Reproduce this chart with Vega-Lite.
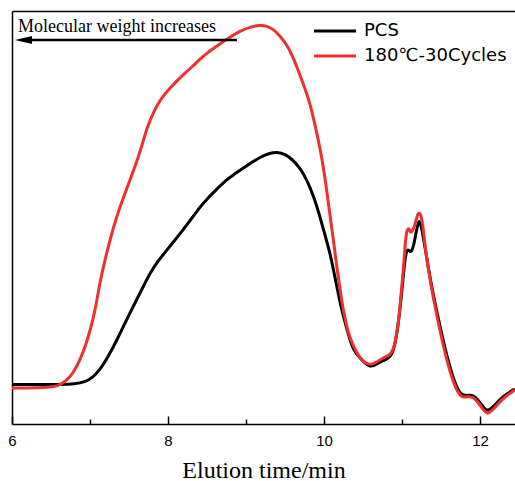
{
  "$schema": "https://vega.github.io/schema/vega-lite/v6.json",
  "width": 503,
  "height": 413,
  "autosize": "none",
  "padding": {"left": 12, "top": 11, "right": 0, "bottom": 57},
  "background": "white",
  "config": {"view": {"stroke": null}},
  "datasets": {
    "curves": [
      {"t": 6.000, "v": 39.5, "s": "PCS"},
      {"t": 6.359, "v": 39.5, "s": "PCS"},
      {"t": 6.615, "v": 39.5, "s": "PCS"},
      {"t": 6.808, "v": 40, "s": "PCS"},
      {"t": 6.936, "v": 42, "s": "PCS"},
      {"t": 7.026, "v": 46, "s": "PCS"},
      {"t": 7.128, "v": 54, "s": "PCS"},
      {"t": 7.231, "v": 67, "s": "PCS"},
      {"t": 7.346, "v": 84, "s": "PCS"},
      {"t": 7.449, "v": 101, "s": "PCS"},
      {"t": 7.551, "v": 117, "s": "PCS"},
      {"t": 7.667, "v": 135, "s": "PCS"},
      {"t": 7.769, "v": 151, "s": "PCS"},
      {"t": 7.872, "v": 163, "s": "PCS"},
      {"t": 7.987, "v": 174, "s": "PCS"},
      {"t": 8.090, "v": 184, "s": "PCS"},
      {"t": 8.192, "v": 194, "s": "PCS"},
      {"t": 8.308, "v": 206, "s": "PCS"},
      {"t": 8.410, "v": 217, "s": "PCS"},
      {"t": 8.513, "v": 226, "s": "PCS"},
      {"t": 8.628, "v": 235, "s": "PCS"},
      {"t": 8.731, "v": 243, "s": "PCS"},
      {"t": 8.833, "v": 249, "s": "PCS"},
      {"t": 8.987, "v": 257, "s": "PCS"},
      {"t": 9.179, "v": 267, "s": "PCS"},
      {"t": 9.308, "v": 271, "s": "PCS"},
      {"t": 9.397, "v": 272, "s": "PCS"},
      {"t": 9.500, "v": 270, "s": "PCS"},
      {"t": 9.603, "v": 264, "s": "PCS"},
      {"t": 9.692, "v": 256, "s": "PCS"},
      {"t": 9.782, "v": 244, "s": "PCS"},
      {"t": 9.872, "v": 227, "s": "PCS"},
      {"t": 9.949, "v": 207, "s": "PCS"},
      {"t": 10.013, "v": 189, "s": "PCS"},
      {"t": 10.077, "v": 171, "s": "PCS"},
      {"t": 10.141, "v": 147, "s": "PCS"},
      {"t": 10.205, "v": 121, "s": "PCS"},
      {"t": 10.295, "v": 94, "s": "PCS"},
      {"t": 10.372, "v": 74, "s": "PCS"},
      {"t": 10.462, "v": 66, "s": "PCS"},
      {"t": 10.526, "v": 61, "s": "PCS"},
      {"t": 10.590, "v": 57, "s": "PCS"},
      {"t": 10.654, "v": 59, "s": "PCS"},
      {"t": 10.718, "v": 62, "s": "PCS"},
      {"t": 10.782, "v": 64, "s": "PCS"},
      {"t": 10.846, "v": 67, "s": "PCS"},
      {"t": 10.885, "v": 72, "s": "PCS"},
      {"t": 10.923, "v": 84, "s": "PCS"},
      {"t": 10.962, "v": 106, "s": "PCS"},
      {"t": 11.000, "v": 134, "s": "PCS"},
      {"t": 11.026, "v": 156, "s": "PCS"},
      {"t": 11.051, "v": 172, "s": "PCS"},
      {"t": 11.077, "v": 175, "s": "PCS"},
      {"t": 11.103, "v": 172, "s": "PCS"},
      {"t": 11.128, "v": 173, "s": "PCS"},
      {"t": 11.154, "v": 180, "s": "PCS"},
      {"t": 11.179, "v": 191, "s": "PCS"},
      {"t": 11.205, "v": 200, "s": "PCS"},
      {"t": 11.218, "v": 203, "s": "PCS"},
      {"t": 11.231, "v": 202, "s": "PCS"},
      {"t": 11.256, "v": 195, "s": "PCS"},
      {"t": 11.295, "v": 177, "s": "PCS"},
      {"t": 11.359, "v": 146, "s": "PCS"},
      {"t": 11.449, "v": 111, "s": "PCS"},
      {"t": 11.577, "v": 66, "s": "PCS"},
      {"t": 11.705, "v": 34, "s": "PCS"},
      {"t": 11.782, "v": 28, "s": "PCS"},
      {"t": 11.872, "v": 29, "s": "PCS"},
      {"t": 11.936, "v": 28, "s": "PCS"},
      {"t": 12.026, "v": 19, "s": "PCS"},
      {"t": 12.090, "v": 12, "s": "PCS"},
      {"t": 12.167, "v": 17, "s": "PCS"},
      {"t": 12.295, "v": 28, "s": "PCS"},
      {"t": 12.449, "v": 35, "s": "PCS"},
      {"t": 6.000, "v": 36, "s": "180℃-30Cycles"},
      {"t": 6.359, "v": 36, "s": "180℃-30Cycles"},
      {"t": 6.487, "v": 37, "s": "180℃-30Cycles"},
      {"t": 6.590, "v": 38, "s": "180℃-30Cycles"},
      {"t": 6.654, "v": 41, "s": "180℃-30Cycles"},
      {"t": 6.718, "v": 45, "s": "180℃-30Cycles"},
      {"t": 6.782, "v": 51, "s": "180℃-30Cycles"},
      {"t": 6.846, "v": 60, "s": "180℃-30Cycles"},
      {"t": 6.910, "v": 71, "s": "180℃-30Cycles"},
      {"t": 6.974, "v": 86, "s": "180℃-30Cycles"},
      {"t": 7.038, "v": 104, "s": "180℃-30Cycles"},
      {"t": 7.090, "v": 124, "s": "180℃-30Cycles"},
      {"t": 7.128, "v": 142, "s": "180℃-30Cycles"},
      {"t": 7.192, "v": 164, "s": "180℃-30Cycles"},
      {"t": 7.256, "v": 184, "s": "180℃-30Cycles"},
      {"t": 7.321, "v": 202, "s": "180℃-30Cycles"},
      {"t": 7.385, "v": 217, "s": "180℃-30Cycles"},
      {"t": 7.474, "v": 236, "s": "180℃-30Cycles"},
      {"t": 7.551, "v": 252, "s": "180℃-30Cycles"},
      {"t": 7.615, "v": 266, "s": "180℃-30Cycles"},
      {"t": 7.679, "v": 282, "s": "180℃-30Cycles"},
      {"t": 7.731, "v": 296, "s": "180℃-30Cycles"},
      {"t": 7.808, "v": 311, "s": "180℃-30Cycles"},
      {"t": 7.897, "v": 324, "s": "180℃-30Cycles"},
      {"t": 8.000, "v": 334, "s": "180℃-30Cycles"},
      {"t": 8.115, "v": 343, "s": "180℃-30Cycles"},
      {"t": 8.218, "v": 351, "s": "180℃-30Cycles"},
      {"t": 8.321, "v": 358, "s": "180℃-30Cycles"},
      {"t": 8.410, "v": 365, "s": "180℃-30Cycles"},
      {"t": 8.500, "v": 371, "s": "180℃-30Cycles"},
      {"t": 8.628, "v": 378, "s": "180℃-30Cycles"},
      {"t": 8.756, "v": 385, "s": "180℃-30Cycles"},
      {"t": 8.923, "v": 393, "s": "180℃-30Cycles"},
      {"t": 9.051, "v": 397, "s": "180℃-30Cycles"},
      {"t": 9.179, "v": 399, "s": "180℃-30Cycles"},
      {"t": 9.269, "v": 398, "s": "180℃-30Cycles"},
      {"t": 9.346, "v": 395, "s": "180℃-30Cycles"},
      {"t": 9.436, "v": 388, "s": "180℃-30Cycles"},
      {"t": 9.526, "v": 379, "s": "180℃-30Cycles"},
      {"t": 9.603, "v": 367, "s": "180℃-30Cycles"},
      {"t": 9.667, "v": 354, "s": "180℃-30Cycles"},
      {"t": 9.731, "v": 341, "s": "180℃-30Cycles"},
      {"t": 9.821, "v": 321, "s": "180℃-30Cycles"},
      {"t": 9.885, "v": 299, "s": "180℃-30Cycles"},
      {"t": 9.949, "v": 276, "s": "180℃-30Cycles"},
      {"t": 9.987, "v": 259, "s": "180℃-30Cycles"},
      {"t": 10.026, "v": 239, "s": "180℃-30Cycles"},
      {"t": 10.077, "v": 209, "s": "180℃-30Cycles"},
      {"t": 10.128, "v": 180, "s": "180℃-30Cycles"},
      {"t": 10.167, "v": 155, "s": "180℃-30Cycles"},
      {"t": 10.205, "v": 136, "s": "180℃-30Cycles"},
      {"t": 10.231, "v": 121, "s": "180℃-30Cycles"},
      {"t": 10.269, "v": 106, "s": "180℃-30Cycles"},
      {"t": 10.308, "v": 92, "s": "180℃-30Cycles"},
      {"t": 10.359, "v": 81, "s": "180℃-30Cycles"},
      {"t": 10.423, "v": 71, "s": "180℃-30Cycles"},
      {"t": 10.462, "v": 66, "s": "180℃-30Cycles"},
      {"t": 10.526, "v": 61, "s": "180℃-30Cycles"},
      {"t": 10.590, "v": 59, "s": "180℃-30Cycles"},
      {"t": 10.654, "v": 61, "s": "180℃-30Cycles"},
      {"t": 10.718, "v": 64, "s": "180℃-30Cycles"},
      {"t": 10.782, "v": 67, "s": "180℃-30Cycles"},
      {"t": 10.846, "v": 69, "s": "180℃-30Cycles"},
      {"t": 10.885, "v": 74, "s": "180℃-30Cycles"},
      {"t": 10.910, "v": 81, "s": "180℃-30Cycles"},
      {"t": 10.936, "v": 92, "s": "180℃-30Cycles"},
      {"t": 10.962, "v": 107, "s": "180℃-30Cycles"},
      {"t": 10.987, "v": 128, "s": "180℃-30Cycles"},
      {"t": 11.013, "v": 151, "s": "180℃-30Cycles"},
      {"t": 11.038, "v": 176, "s": "180℃-30Cycles"},
      {"t": 11.051, "v": 189, "s": "180℃-30Cycles"},
      {"t": 11.077, "v": 197, "s": "180℃-30Cycles"},
      {"t": 11.103, "v": 193, "s": "180℃-30Cycles"},
      {"t": 11.115, "v": 191, "s": "180℃-30Cycles"},
      {"t": 11.141, "v": 194, "s": "180℃-30Cycles"},
      {"t": 11.167, "v": 199, "s": "180℃-30Cycles"},
      {"t": 11.192, "v": 208, "s": "180℃-30Cycles"},
      {"t": 11.218, "v": 212, "s": "180℃-30Cycles"},
      {"t": 11.244, "v": 209, "s": "180℃-30Cycles"},
      {"t": 11.269, "v": 199, "s": "180℃-30Cycles"},
      {"t": 11.295, "v": 177, "s": "180℃-30Cycles"},
      {"t": 11.359, "v": 144, "s": "180℃-30Cycles"},
      {"t": 11.449, "v": 107, "s": "180℃-30Cycles"},
      {"t": 11.577, "v": 61, "s": "180℃-30Cycles"},
      {"t": 11.705, "v": 31, "s": "180℃-30Cycles"},
      {"t": 11.782, "v": 26, "s": "180℃-30Cycles"},
      {"t": 11.872, "v": 28, "s": "180℃-30Cycles"},
      {"t": 11.936, "v": 26, "s": "180℃-30Cycles"},
      {"t": 12.026, "v": 16, "s": "180℃-30Cycles"},
      {"t": 12.090, "v": 9, "s": "180℃-30Cycles"},
      {"t": 12.167, "v": 14, "s": "180℃-30Cycles"},
      {"t": 12.295, "v": 26, "s": "180℃-30Cycles"},
      {"t": 12.449, "v": 34, "s": "180℃-30Cycles"}
    ],
    "note": [
      {"t": 6.077, "v": 392, "label": "Molecular weight increases"}
    ],
    "arrow": [
      {"t": 6.18, "t2": 8.885, "v": 384, "head": 6.147}
    ]
  },
  "layer": [
    {
      "data": {"name": "curves"},
      "transform": [{"filter": "datum.s === 'PCS'"}],
      "mark": {"type": "line", "strokeWidth": 3, "interpolate": "basis", "clip": true},
      "encoding": {
        "x": {
          "field": "t", "type": "quantitative",
          "scale": {"domain": [6, 12.449], "nice": false, "zero": false},
          "axis": {
            "orient": "bottom",
            "title": "Elution time/min",
            "titleFont": "Liberation Serif",
            "titleFontSize": 24,
            "titleFontWeight": "normal",
            "titleColor": "black",
            "titlePadding": 10,
            "values": [6, 8, 10, 12],
            "labelFont": "Liberation Sans",
            "labelFontSize": 15,
            "labelColor": "black",
            "labelPadding": 17,
            "labelFlush": false,
            "tickSize": -8,
            "tickColor": "black",
            "tickWidth": 1.5,
            "domainColor": "black",
            "domainWidth": 1.5,
            "grid": false
          }
        },
        "y": {
          "field": "v", "type": "quantitative",
          "scale": {"domain": [0, 413], "nice": false, "zero": false},
          "axis": {"title": null, "labels": false, "ticks": false, "grid": false, "domainColor": "black", "domainWidth": 1.5}
        },
        "color": {
          "field": "s", "type": "nominal",
          "scale": {"domain": ["PCS", "180℃-30Cycles"], "range": ["#000000", "#ee3030"]},
          "legend": {
            "title": null,
            "orient": "none",
            "legendX": 311,
            "legendY": 8,
            "symbolType": "M-2,0H2",
            "symbolSize": 441,
            "symbolStrokeWidth": 3,
            "labelFont": "DejaVu Sans",
            "labelFontSize": 18,
            "labelColor": "black",
            "labelOffset": 17,
            "rowPadding": 4
          }
        }
      }
    },
    {
      "data": {"name": "curves"},
      "transform": [{"filter": "datum.s !== 'PCS'"}],
      "mark": {"type": "line", "strokeWidth": 3, "interpolate": "basis", "clip": true},
      "encoding": {
        "x": {"field": "t", "type": "quantitative",
          "axis": {"orient": "top", "title": null, "labels": false, "ticks": false, "grid": false, "domainColor": "black", "domainWidth": 1.5}},
        "y": {"field": "v", "type": "quantitative"},
        "color": {"field": "s", "type": "nominal"}
      }
    },
    {
      "data": {"name": "arrow"},
      "mark": {"type": "rule", "strokeWidth": 2.5, "color": "black"},
      "encoding": {
        "x": {"field": "t", "type": "quantitative",
          "axis": {"orient": "bottom", "title": null, "labels": false, "domain": false, "grid": false, "values": [7, 9, 11], "tickSize": -5, "tickColor": "black", "tickWidth": 1.5}},
        "x2": {"field": "t2"},
        "y": {"field": "v", "type": "quantitative"}
      }
    },
    {
      "data": {"name": "arrow"},
      "mark": {"type": "point", "shape": "M-1,0L1,-0.47L1,0.47Z", "size": 289, "filled": true, "color": "black", "opacity": 1, "strokeWidth": 0},
      "encoding": {
        "x": {"field": "head", "type": "quantitative", "axis": null},
        "y": {"field": "v", "type": "quantitative"}
      }
    },
    {
      "data": {"name": "note"},
      "mark": {"type": "text", "font": "Liberation Serif", "fontSize": 18, "align": "left", "baseline": "alphabetic", "color": "black"},
      "encoding": {
        "x": {"field": "t", "type": "quantitative", "axis": null},
        "y": {"field": "v", "type": "quantitative"},
        "text": {"field": "label"}
      }
    }
  ],
  "resolve": {"axis": {"x": "independent"}}
}
